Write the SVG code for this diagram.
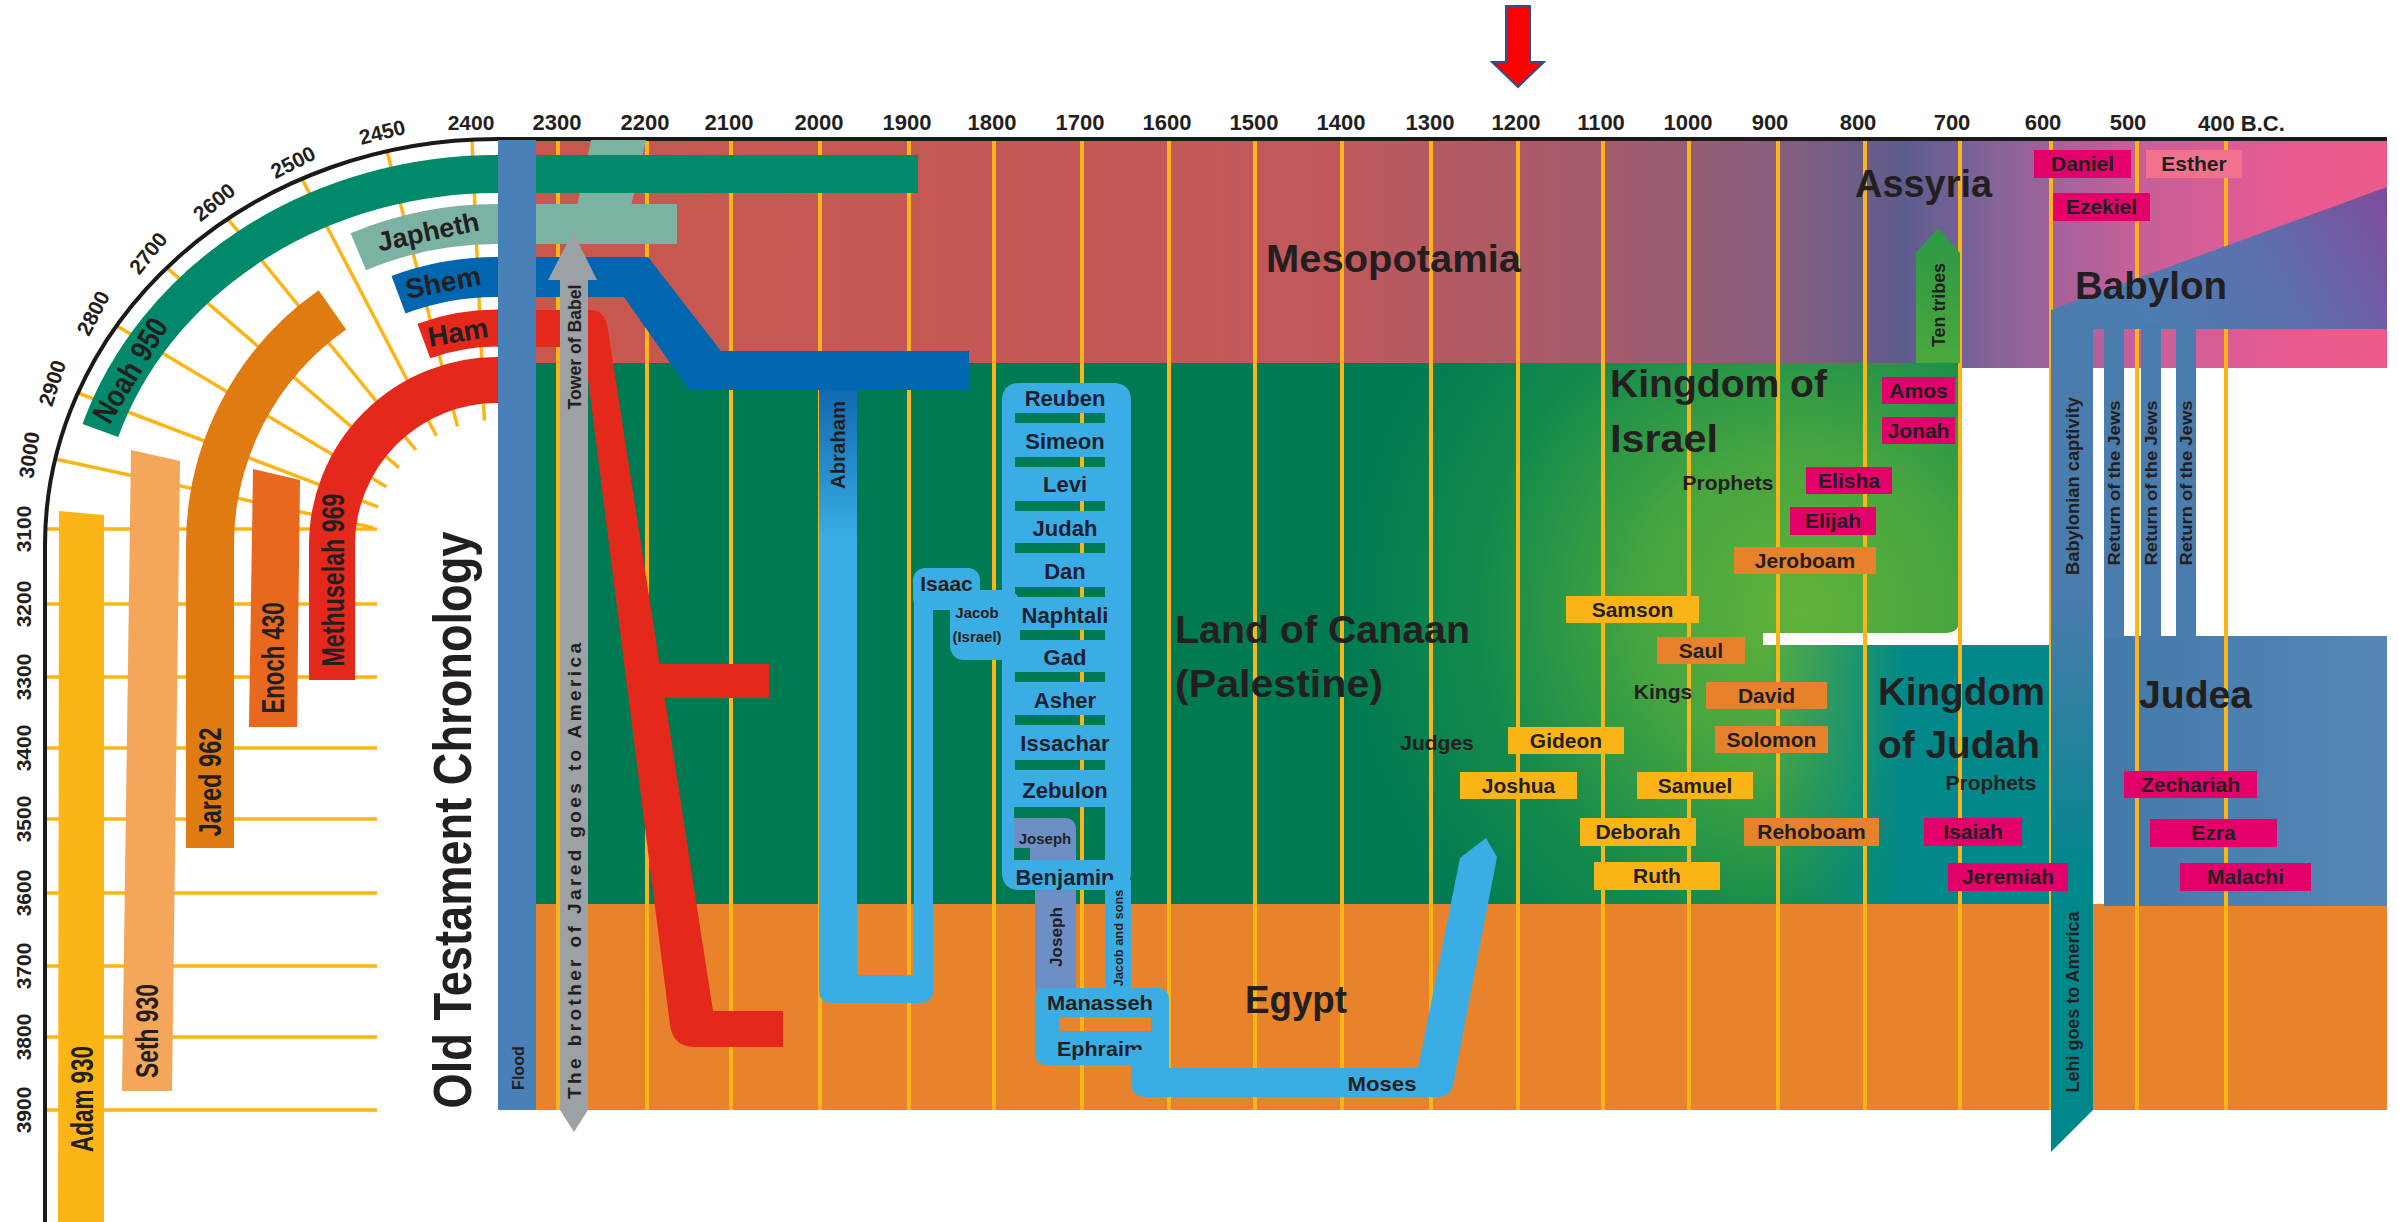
<svg xmlns="http://www.w3.org/2000/svg" width="2399" height="1222" viewBox="0 0 2399 1222">
<defs>
<style>
.t{font-family:"Liberation Sans",Arial,"DejaVu Sans",sans-serif;font-weight:bold;fill:#231f20}
.yr{font-size:22px;text-anchor:middle}
.yl{font-size:21px;text-anchor:middle}
.bx{font-size:21px;text-anchor:middle}
.big{font-size:39px}
.son{font-size:22px;text-anchor:middle;fill:#1c2030}
.rt{text-anchor:middle}
.grid{stroke:#fbb516;stroke-width:4;fill:none}
.fan{stroke:#fbb516;stroke-width:3.5;fill:none}
.y{fill:#fbb416}.o{fill:#e8812c}.m{fill:#e3006a}.pk{fill:#f2728e}
.lb{fill:#3aaee4}
.sl{fill:#6d8fc6}
.band{fill:none;stroke-linecap:butt}
</style>
<linearGradient id="gMes" gradientUnits="userSpaceOnUse" x1="536" y1="0" x2="2387" y2="0">
<stop offset="0" stop-color="#c9574e"/>
<stop offset="0.42" stop-color="#c1585a"/>
<stop offset="0.58" stop-color="#a35c6c"/>
<stop offset="0.67" stop-color="#875e7d"/>
<stop offset="0.74" stop-color="#5e5c8f"/>
<stop offset="0.79" stop-color="#87649a"/>
<stop offset="0.86" stop-color="#c4609a"/>
<stop offset="0.95" stop-color="#e95a90"/>
<stop offset="1" stop-color="#ec5a8d"/>
</linearGradient>
<radialGradient id="gCan" gradientUnits="userSpaceOnUse" cx="1800" cy="610" r="460">
<stop offset="0" stop-color="#62b23a"/>
<stop offset="0.35" stop-color="#45a540"/>
<stop offset="0.7" stop-color="#138a4c"/>
<stop offset="1" stop-color="#007a52"/>
</radialGradient>
<linearGradient id="gJud" gradientUnits="userSpaceOnUse" x1="1763" y1="0" x2="2051" y2="0">
<stop offset="0" stop-color="#00888b" stop-opacity="0"/>
<stop offset="0.3" stop-color="#00888b" stop-opacity="0.6"/>
<stop offset="0.5" stop-color="#00888b" stop-opacity="1"/>
<stop offset="1" stop-color="#00888b" stop-opacity="1"/>
</linearGradient>
<linearGradient id="gJudea" gradientUnits="userSpaceOnUse" x1="2104" y1="0" x2="2387" y2="0">
<stop offset="0" stop-color="#437aaa"/>
<stop offset="1" stop-color="#5586b6"/>
</linearGradient>
<linearGradient id="gBab" gradientUnits="userSpaceOnUse" x1="2150" y1="330" x2="2387" y2="190">
<stop offset="0" stop-color="#4c7db1"/>
<stop offset="0.5" stop-color="#5e6fae"/>
<stop offset="1" stop-color="#7e4c9b"/>
</linearGradient>
<linearGradient id="gCap" gradientUnits="userSpaceOnUse" x1="0" y1="600" x2="0" y2="880">
<stop offset="0" stop-color="#4a7cae"/>
<stop offset="1" stop-color="#00878c"/>
</linearGradient>
<linearGradient id="gTen" gradientUnits="userSpaceOnUse" x1="0" y1="228" x2="0" y2="363">
<stop offset="0" stop-color="#2e9846"/>
<stop offset="1" stop-color="#4aa83d"/>
</linearGradient>
<linearGradient id="gAbr" gradientUnits="userSpaceOnUse" x1="0" y1="390" x2="0" y2="540">
<stop offset="0" stop-color="#0f69b2"/>
<stop offset="1" stop-color="#3aaee4"/>
</linearGradient>
</defs>
<rect x="0" y="0" width="2399" height="1222" fill="#ffffff"/>

<g id="regions">
<rect x="536" y="140" width="1851" height="228" fill="url(#gMes)"/>
<path d="M536,363 H1960 V618 Q1960,633 1945,633 H1763 V645 H2051 V906 H536 Z" fill="url(#gCan)"/>
<rect x="1763" y="645" width="288" height="261" fill="url(#gJud)"/>
<rect x="536" y="904" width="1851" height="206" fill="#e8832b"/>
<rect x="2104" y="636" width="283" height="270" fill="url(#gJudea)"/>
</g>

<g id="gridlines">
<path class="grid" d="M558,140V1110 M647,140V1110 M731,140V1110 M820,140V1110 M909,140V1110 M994,140V1110 M1082,140V1110 M1169,140V1110 M1255,140V1110 M1342,140V1110 M1431,140V1110 M1518,140V1110 M1603,140V1110 M1689,140V1110 M1778,140V1110 M1865,140V1110 M1960,140V1110 M2051,140V1110 M2137,140V1110 M2226,140V1110"/>
</g>

<g id="babylon">
<polygon points="2051,310 2387,187 2387,329 2051,329" fill="url(#gBab)"/>
<rect x="2104" y="325" width="20" height="313" fill="#4a7cae"/>
<rect x="2141" y="325" width="20" height="313" fill="#4a7cae"/>
<rect x="2176" y="325" width="20" height="313" fill="#4a7cae"/>
<polygon points="2051,310 2093,310 2093,1110 2051,1152" fill="url(#gCap)"/>
</g>

<g id="fan">
<path class="fan" d="M472,140 L484.4,420.6 M387,151 L457.5,426.4 M302,179 L436.4,435.7 M228,219 L415.9,450 M167,268 L398.8,467.7 M117,326 L386.4,486.7 M78,393 L378,506.8 M55,459 L373.2,527.6"/>
<path class="fan" d="M46,529H377 M46,604H377 M46,677H377 M46,748H377 M46,819H377 M46,893H377 M46,966H377 M46,1037H377 M46,1110H377"/>
<path d="M45,1222 V545 A452,406 0 0 1 497,139 H2387" fill="none" stroke="#1a1a1a" stroke-width="4"/>
</g>

<g id="axis-labels">
<text class="t yl" transform="translate(471,122)" y="7.5">2400</text>
<text class="t yl" transform="translate(382,132) rotate(-14)" y="7.5">2450</text>
<text class="t yl" transform="translate(293,162) rotate(-27)" y="7.5">2500</text>
<text class="t yl" transform="translate(214,202) rotate(-39)" y="7.5">2600</text>
<text class="t yl" transform="translate(148,253) rotate(-51)" y="7.5">2700</text>
<text class="t yl" transform="translate(93,313) rotate(-62)" y="7.5">2800</text>
<text class="t yl" transform="translate(52,383) rotate(-72)" y="7.5">2900</text>
<text class="t yl" transform="translate(29,455) rotate(-82)" y="7.5">3000</text>
<text class="t yl" transform="translate(23,529) rotate(-90)" y="7.5">3100</text>
<text class="t yl" transform="translate(23,604) rotate(-90)" y="7.5">3200</text>
<text class="t yl" transform="translate(23,677) rotate(-90)" y="7.5">3300</text>
<text class="t yl" transform="translate(23,748) rotate(-90)" y="7.5">3400</text>
<text class="t yl" transform="translate(23,819) rotate(-90)" y="7.5">3500</text>
<text class="t yl" transform="translate(23,893) rotate(-90)" y="7.5">3600</text>
<text class="t yl" transform="translate(23,966) rotate(-90)" y="7.5">3700</text>
<text class="t yl" transform="translate(23,1037) rotate(-90)" y="7.5">3800</text>
<text class="t yl" transform="translate(23,1110) rotate(-90)" y="7.5">3900</text>
<text class="t yr" x="557" y="130">2300</text>
<text class="t yr" x="645" y="130">2200</text>
<text class="t yr" x="729" y="130">2100</text>
<text class="t yr" x="819" y="130">2000</text>
<text class="t yr" x="907" y="130">1900</text>
<text class="t yr" x="992" y="130">1800</text>
<text class="t yr" x="1080" y="130">1700</text>
<text class="t yr" x="1167" y="130">1600</text>
<text class="t yr" x="1254" y="130">1500</text>
<text class="t yr" x="1341" y="130">1400</text>
<text class="t yr" x="1430" y="130">1300</text>
<text class="t yr" x="1516" y="130">1200</text>
<text class="t yr" x="1601" y="130">1100</text>
<text class="t yr" x="1688" y="130">1000</text>
<text class="t yr" x="1770" y="130">900</text>
<text class="t yr" x="1858" y="130">800</text>
<text class="t yr" x="1952" y="130">700</text>
<text class="t yr" x="2043" y="130">600</text>
<text class="t yr" x="2128" y="130">500</text>
<text class="t" x="2198" y="131" font-size="22">400 B.C.</text>
</g>

<g id="marker-arrow">
<polygon points="1506,6 1530,6 1530,62 1544,62 1518,87 1492,62 1506,62" fill="#ff0000" stroke="#2f4f8f" stroke-width="2"/>
</g>

<g id="patriarchs">
<g id="n-adam"><polygon points="59,511 104,515 104,1222 58,1222" fill="#fbb516"/>
<text class="t rt" transform="translate(82,1099) rotate(-90)" y="11" font-size="31" textLength="106" lengthAdjust="spacingAndGlyphs">Adam 930</text></g>
<g id="n-seth"><polygon points="131,450 180,461 172,1091 122,1091" fill="#f4a65a"/>
<text class="t rt" transform="translate(147,1031) rotate(-90)" y="11" font-size="31" textLength="94" lengthAdjust="spacingAndGlyphs">Seth 930</text></g>
<g id="n-enoch"><polygon points="253,469 300,480 297,727 249,727" fill="#e8681e"/>
<text class="t rt" transform="translate(273,658) rotate(-90)" y="11" font-size="31" textLength="111" lengthAdjust="spacingAndGlyphs">Enoch 430</text></g>
<g id="n-jared"><path class="band" d="M332.4,309.9 A287,287 0 0 0 210,545 V848" stroke="#e07b12" stroke-width="48"/>
<text class="t rt" transform="translate(210,782) rotate(-90)" y="11" font-size="31" textLength="109" lengthAdjust="spacingAndGlyphs">Jared 962</text></g>
<g id="n-methuselah"><path class="band" d="M500,380 H497 A165,165 0 0 0 332,545 V680" stroke="#e5281c" stroke-width="46"/>
<text class="t rt" transform="translate(333,580) rotate(-90)" y="11" font-size="31" textLength="173" lengthAdjust="spacingAndGlyphs">Methuselah 969</text></g>
</g>

<g id="connectors">
<g id="n-ham"><path class="band" d="M500,328 H497 A214,217 0 0 0 423.8,341" stroke="#e5281c" stroke-width="37"/>
<path d="M497,310 H590 Q606,310 608,330 L713,1011 H783 V1047 H695 Q673,1047 670,1025 L584,347 H497 Z" fill="#e5281c"/>
<rect x="640" y="664" width="129" height="34" fill="#e5281c"/>
<text class="t rt" transform="translate(458,332) rotate(-10)" y="10" font-size="28">Ham</text></g>
<g id="n-japheth"><polygon points="591,140 646,140 631,206 577,206" fill="#7bb2a3"/>
<path class="band" d="M677,224 H497 A341,321 0 0 0 358.3,251.7" stroke="#7bb2a3" stroke-width="40"/>
<text class="t rt" transform="translate(428,231) rotate(-12)" y="10" font-size="27">Japheth</text></g>
<g id="n-noah"><path class="band" d="M918,174 H497 A417,371 0 0 0 100.4,430.4" stroke="#00896b" stroke-width="38"/>
<text class="t rt" transform="translate(130,370) rotate(-59)" y="11" font-size="31" textLength="116" lengthAdjust="spacingAndGlyphs">Noah 950</text></g>
<g id="n-abraham"><path d="M819,385 H857 V975 H914 V598 H933 V990 Q933,1003 920,1003 H832 Q819,1003 819,990 Z" fill="url(#gAbr)"/>
<text class="t rt" transform="translate(838,445) rotate(-90)" y="7" font-size="20" textLength="88" lengthAdjust="spacingAndGlyphs">Abraham</text></g>
<g id="n-shem"><path class="band" d="M500,277 H497 A275,268 0 0 0 398.5,294.7" stroke="#0066b0" stroke-width="40"/>
<path d="M497,257 H648 L721,351 H969 V390 H689 L624,297 H497 Z" fill="#0066b0"/>
<text class="t rt" transform="translate(443,282) rotate(-11)" y="10" font-size="28">Shem</text></g>
<g id="n-flood"><rect x="498" y="140" width="38" height="970" fill="#4a80b8"/>
<text class="t rt" transform="translate(518,1068) rotate(-90)" y="6" font-size="17" textLength="44" lengthAdjust="spacingAndGlyphs">Flood</text></g>
<g id="n-babel"><polygon points="573,232 597,280 588,280 588,1110 574,1132 560,1110 560,280 548,280" fill="#9ba1a4"/>
<text class="t rt" transform="translate(574,347) rotate(-90)" y="6.5" font-size="18" textLength="125" lengthAdjust="spacingAndGlyphs">Tower of Babel</text>
<text class="t rt" transform="translate(574,871) rotate(-90)" y="7" font-size="19" textLength="456" lengthAdjust="spacing">The brother of Jared goes to America</text></g>
<g id="n-isaac"><rect class="lb" x="913" y="568" width="67" height="42" rx="12"/>
<rect class="lb" x="950" y="590" width="70" height="70" rx="14"/>
<text class="t rt" x="946.5" y="591" font-size="21">Isaac</text>
<text class="t rt" x="977" y="618" font-size="15">Jacob</text>
<text class="t rt" x="977" y="642" font-size="15">(Israel)</text></g>
<g id="n-joseph-strip"><rect class="sl" x="1035" y="884" width="41" height="108"/>
<text class="t rt" transform="translate(1056,937) rotate(-90)" y="6" font-size="17" textLength="60" lengthAdjust="spacingAndGlyphs">Joseph</text></g>
<g id="n-sons">
<path class="lb" fill-rule="evenodd" d="M1020,383 H1113 Q1131,383 1131,401 V872 Q1131,890 1113,890 H1020 Q1002,890 1002,872 V401 Q1002,383 1020,383 Z M1015,413 h90 v10 h-90 Z M1015,457 h90 v10 h-90 Z M1015,501 h90 v10 h-90 Z M1015,543 h90 v10 h-90 Z M1015,587 h90 v10 h-90 Z M1015,630 h90 v10 h-90 Z M1015,672 h90 v10 h-90 Z M1015,715 h90 v10 h-90 Z M1015,760 h90 v10 h-90 Z M1014,807 h91 v53 h-91 Z"/>
<path class="sl" d="M1014,818 H1064 Q1076,818 1076,830 V860 H1030 V848 H1014 Z"/>
<text class="t son" x="1065" y="406">Reuben</text>
<text class="t son" x="1065" y="449">Simeon</text>
<text class="t son" x="1065" y="492">Levi</text>
<text class="t son" x="1065" y="536">Judah</text>
<text class="t son" x="1065" y="579">Dan</text>
<text class="t son" x="1065" y="623">Naphtali</text>
<text class="t son" x="1065" y="665">Gad</text>
<text class="t son" x="1065" y="708">Asher</text>
<text class="t son" x="1065" y="751">Issachar</text>
<text class="t son" x="1065" y="798">Zebulon</text>
<text class="t rt" x="1045" y="844" font-size="15" fill="#1c2030">Joseph</text>
<text class="t son" x="1065" y="885">Benjamin</text>
</g>
<g id="n-jacob-sons"><rect class="lb" x="1105" y="880" width="26" height="120"/>
<text class="t rt" transform="translate(1118,938) rotate(-90)" y="5" font-size="13" textLength="97" lengthAdjust="spacingAndGlyphs">Jacob and sons</text></g>
<g id="n-manasseh"><path class="lb" fill-rule="evenodd" d="M1047,988 H1157 Q1169,988 1169,1000 V1053 Q1169,1065 1157,1065 H1047 Q1035,1065 1035,1053 V1000 Q1035,988 1047,988 Z M1059,1017 H1151 V1031 H1059 Z"/>
<text class="t rt" x="1100" y="1010" font-size="21" textLength="106" lengthAdjust="spacingAndGlyphs">Manasseh</text>
<text class="t rt" x="1100" y="1056" font-size="21" textLength="86" lengthAdjust="spacingAndGlyphs">Ephraim</text></g>
<g id="n-moses"><path class="lb" d="M1131,1050 H1169 V1068 H1418 L1460,858 L1486,838 L1497,857 L1453,1085 Q1450,1097 1438,1097 H1146 Q1131,1097 1131,1082 Z"/>
<text class="t rt" x="1382" y="1091" font-size="21" textLength="69" lengthAdjust="spacingAndGlyphs">Moses</text></g>
<g id="n-ten-tribes"><polygon points="1916,363 1916,253 1938,228 1960,253 1960,363" fill="url(#gTen)"/>
<text class="t rt" transform="translate(1938,305) rotate(-90)" y="6.5" font-size="18" textLength="84" lengthAdjust="spacingAndGlyphs">Ten tribes</text></g>
<g id="n-exile-labels">
<text class="t rt" transform="translate(2072,486) rotate(-90)" y="6.5" font-size="18" textLength="178" lengthAdjust="spacingAndGlyphs">Babylonian captivity</text>
<text class="t rt" transform="translate(2114,483) rotate(-90)" y="6" font-size="17" textLength="165" lengthAdjust="spacingAndGlyphs">Return of the Jews</text>
<text class="t rt" transform="translate(2151,483) rotate(-90)" y="6" font-size="17" textLength="165" lengthAdjust="spacingAndGlyphs">Return of the Jews</text>
<text class="t rt" transform="translate(2186,483) rotate(-90)" y="6" font-size="17" textLength="165" lengthAdjust="spacingAndGlyphs">Return of the Jews</text>
<text class="t rt" transform="translate(2072,1002) rotate(-90)" y="6.5" font-size="18" textLength="181" lengthAdjust="spacingAndGlyphs">Lehi goes to America</text>
</g>
</g>

<g id="titles">
<text class="t rt" transform="translate(471,820) rotate(-90)" font-size="54" textLength="577" lengthAdjust="spacingAndGlyphs">Old Testament Chronology</text>
<text class="t big" x="1266" y="272" textLength="255" lengthAdjust="spacingAndGlyphs">Mesopotamia</text>
<text class="t big" x="1855" y="197" textLength="137" lengthAdjust="spacingAndGlyphs">Assyria</text>
<text class="t big" x="2075" y="299" textLength="152" lengthAdjust="spacingAndGlyphs">Babylon</text>
<text class="t big" x="1610" y="397" textLength="217" lengthAdjust="spacingAndGlyphs">Kingdom of</text>
<text class="t big" x="1610" y="452" textLength="108" lengthAdjust="spacingAndGlyphs">Israel</text>
<text class="t big" x="1175" y="643" textLength="295" lengthAdjust="spacingAndGlyphs">Land of Canaan</text>
<text class="t big" x="1175" y="697" textLength="208" lengthAdjust="spacingAndGlyphs">(Palestine)</text>
<text class="t big" x="1245" y="1013" textLength="102" lengthAdjust="spacingAndGlyphs">Egypt</text>
<text class="t big" x="1878" y="705" textLength="167" lengthAdjust="spacingAndGlyphs">Kingdom</text>
<text class="t big" x="1878" y="758" textLength="162" lengthAdjust="spacingAndGlyphs">of Judah</text>
<text class="t big" x="2139" y="708" textLength="113" lengthAdjust="spacingAndGlyphs">Judea</text>
<text class="t bx" x="1728" y="490">Prophets</text>
<text class="t bx" x="1663" y="699">Kings</text>
<text class="t bx" x="1437" y="750">Judges</text>
<text class="t bx" x="1991" y="790">Prophets</text>
</g>

<g id="people">
<g id="n-daniel"><rect class="m" x="2034" y="150" width="97" height="28"/><text class="t bx" x="2082.5" y="171">Daniel</text></g>
<g id="n-esther"><rect class="pk" x="2146" y="150" width="96" height="28"/><text class="t bx" x="2194" y="171">Esther</text></g>
<g id="n-ezekiel"><rect class="m" x="2053" y="193" width="97" height="28"/><text class="t bx" x="2101.5" y="214">Ezekiel</text></g>
<g id="n-amos"><rect class="m" x="1882" y="377" width="73" height="27"/><text class="t bx" x="1918.5" y="398">Amos</text></g>
<g id="n-jonah"><rect class="m" x="1882" y="417" width="73" height="27"/><text class="t bx" x="1918.5" y="438">Jonah</text></g>
<g id="n-elisha"><rect class="m" x="1806" y="467" width="86" height="27"/><text class="t bx" x="1849" y="488">Elisha</text></g>
<g id="n-elijah"><rect class="m" x="1790" y="507" width="86" height="28"/><text class="t bx" x="1833" y="528">Elijah</text></g>
<g id="n-jeroboam"><rect class="o" x="1734" y="547" width="142" height="27"/><text class="t bx" x="1805" y="568">Jeroboam</text></g>
<g id="n-samson"><rect class="y" x="1566" y="596" width="133" height="27"/><text class="t bx" x="1632.5" y="617">Samson</text></g>
<g id="n-saul"><rect class="o" x="1657" y="637" width="88" height="27"/><text class="t bx" x="1701" y="658">Saul</text></g>
<g id="n-david"><rect class="o" x="1706" y="682" width="121" height="27"/><text class="t bx" x="1766.5" y="703">David</text></g>
<g id="n-gideon"><rect class="y" x="1508" y="727" width="116" height="27"/><text class="t bx" x="1566" y="748">Gideon</text></g>
<g id="n-solomon"><rect class="o" x="1715" y="726" width="113" height="27"/><text class="t bx" x="1771.5" y="747">Solomon</text></g>
<g id="n-joshua"><rect class="y" x="1460" y="772" width="117" height="27"/><text class="t bx" x="1518.5" y="793">Joshua</text></g>
<g id="n-samuel"><rect class="y" x="1637" y="772" width="116" height="27"/><text class="t bx" x="1695" y="793">Samuel</text></g>
<g id="n-zechariah"><rect class="m" x="2124" y="771" width="133" height="27"/><text class="t bx" x="2190.5" y="792">Zechariah</text></g>
<g id="n-deborah"><rect class="y" x="1580" y="818" width="116" height="28"/><text class="t bx" x="1638" y="839">Deborah</text></g>
<g id="n-rehoboam"><rect class="o" x="1744" y="818" width="135" height="28"/><text class="t bx" x="1811.5" y="839">Rehoboam</text></g>
<g id="n-isaiah"><rect class="m" x="1924" y="818" width="98" height="28"/><text class="t bx" x="1973" y="839">Isaiah</text></g>
<g id="n-ezra"><rect class="m" x="2150" y="819" width="127" height="28"/><text class="t bx" x="2213.5" y="840">Ezra</text></g>
<g id="n-ruth"><rect class="y" x="1594" y="862" width="126" height="28"/><text class="t bx" x="1657" y="883">Ruth</text></g>
<g id="n-jeremiah"><rect class="m" x="1948" y="863" width="120" height="28"/><text class="t bx" x="2008" y="884">Jeremiah</text></g>
<g id="n-malachi"><rect class="m" x="2180" y="863" width="131" height="28"/><text class="t bx" x="2245.5" y="884">Malachi</text></g>
</g>
</svg>
